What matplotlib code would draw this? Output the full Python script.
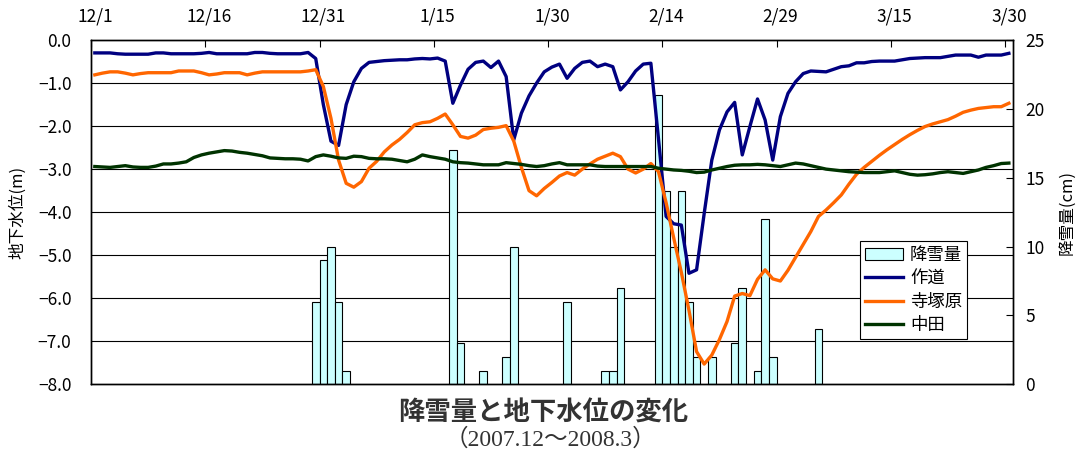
import datetime as dt
import numpy as np
import matplotlib
matplotlib.use("Agg")
import matplotlib.pyplot as plt
from matplotlib.patches import Patch

plt.rcParams['font.family'] = ['Noto Sans CJK JP', 'DejaVu Sans']

# daily record, 2007-12-01 .. 2008-03-30
start = dt.date(2007, 12, 1)
n_days = 121

# snowfall (cm): day index from 12/1 and amount
snow_day = [29, 30, 31, 32, 33, 47, 48, 51, 54, 55, 62, 67, 68, 69,
            74, 75, 76, 77, 78, 79, 81, 84, 85, 87, 88, 89, 95]
snow_cm = [6, 9, 10, 6, 1, 17, 3, 1, 2, 10, 6, 1, 1, 7,
           21, 14, 10, 14, 6, 2, 2, 3, 7, 1, 12, 2, 4]

# groundwater level (m)
sakudo = [-0.30, -0.30, -0.30, -0.32, -0.33, -0.33, -0.33, -0.33, -0.30, -0.30,
          -0.32, -0.32, -0.32, -0.32, -0.31, -0.29, -0.32, -0.32, -0.32, -0.32,
          -0.32, -0.29, -0.29, -0.31, -0.32, -0.32, -0.32, -0.32, -0.29,
          -0.43, -1.50, -2.35, -2.45, -1.50, -0.97, -0.66,
          -0.52, -0.50, -0.48, -0.47, -0.46, -0.46, -0.44, -0.43, -0.44, -0.42, -0.49,
          -1.47, -1.05, -0.68, -0.52, -0.49, -0.64, -0.49, -0.85, -2.32, -1.70,
          -1.30, -1.00, -0.74, -0.63, -0.56, -0.89, -0.66, -0.52, -0.49, -0.62,
          -0.56, -0.62, -1.16, -0.97, -0.72, -0.56, -0.54,
          -2.30, -4.10, -4.27, -4.30, -5.42, -5.34, -4.03, -2.79, -2.09, -1.67,
          -1.45, -2.67, -2.01, -1.37, -1.86, -2.79, -1.78, -1.24, -0.97, -0.78,
          -0.72, -0.73,
          -0.74, -0.68, -0.62, -0.60, -0.53, -0.53, -0.50, -0.49, -0.49, -0.49,
          -0.46, -0.43, -0.42, -0.41, -0.41, -0.41, -0.38, -0.35, -0.35, -0.35,
          -0.40, -0.35, -0.35, -0.35, -0.31]

terazukahara = [-0.81, -0.77, -0.74, -0.74, -0.77, -0.81, -0.78, -0.76, -0.76, -0.76,
                -0.76, -0.72, -0.72, -0.72, -0.76, -0.81, -0.79, -0.76, -0.76, -0.76,
                -0.81, -0.77, -0.74, -0.74, -0.74, -0.74, -0.74, -0.74, -0.72,
                -0.69, -1.08, -1.82, -2.79, -3.33, -3.42, -3.29, -2.98, -2.82, -2.60,
                -2.44, -2.31, -2.15, -1.97, -1.92, -1.90, -1.82, -1.72, -1.97, -2.24,
                -2.28, -2.21, -2.08, -2.05, -2.03, -1.99, -2.35, -2.96, -3.50, -3.62,
                -3.45, -3.31, -3.16, -3.08, -3.14, -3.00, -2.88, -2.77, -2.70, -2.63,
                -2.71, -3.00, -3.09, -3.00, -2.87,
                -3.06, -3.78, -4.60, -5.40, -6.28, -7.24, -7.53, -7.32, -6.96, -6.54,
                -5.95, -5.89, -5.94, -5.56, -5.34, -5.55, -5.60, -5.35, -5.05, -4.75,
                -4.45, -4.10,
                -3.95, -3.78, -3.60, -3.35, -3.12, -2.96, -2.82, -2.68, -2.55, -2.43,
                -2.31, -2.20, -2.10, -2.01, -1.95, -1.90, -1.85, -1.77, -1.68, -1.63,
                -1.59, -1.57, -1.55, -1.55, -1.47]

nakata = [-2.94, -2.95, -2.96, -2.94, -2.92, -2.95, -2.96, -2.96, -2.93, -2.88,
          -2.88, -2.86, -2.83, -2.73, -2.67, -2.63, -2.60, -2.57, -2.58, -2.61,
          -2.63, -2.66, -2.69, -2.74, -2.75, -2.76, -2.76, -2.77, -2.81, -2.71,
          -2.67, -2.70, -2.74, -2.75, -2.70, -2.71, -2.75, -2.76, -2.76, -2.77,
          -2.80, -2.83, -2.77, -2.67, -2.71, -2.74, -2.77, -2.83, -2.85, -2.86,
          -2.88, -2.90, -2.90, -2.90, -2.85, -2.87, -2.89, -2.92, -2.94, -2.92,
          -2.88, -2.85, -2.90, -2.90, -2.90, -2.90, -2.93, -2.94, -2.94, -2.94,
          -2.94, -2.94, -2.94, -2.94, -2.98, -3.00, -3.02, -3.03, -3.05, -3.08,
          -3.07, -3.02, -2.98, -2.94, -2.91, -2.90, -2.90, -2.89, -2.90, -2.92,
          -2.94, -2.90, -2.86, -2.88, -2.92, -2.96, -3.00, -3.02, -3.04, -3.06,
          -3.07, -3.08, -3.08, -3.08, -3.06, -3.04, -3.08, -3.12, -3.14, -3.13,
          -3.11, -3.08, -3.06, -3.08, -3.10, -3.06, -3.02, -2.96, -2.92, -2.87,
          -2.86]

level_ticks = np.arange(-8, 1, 1.0)
snow_ticks = np.arange(0, 26, 5)

fig = plt.figure(figsize=(10.81, 4.54), dpi=100)
ax = fig.add_axes([0.0842, 0.1535, 0.8526, 0.7584])
ax2 = ax.twinx()
ax.set_zorder(ax2.get_zorder() + 1)
ax.patch.set_visible(False)

# snowfall bars (behind), one slot per day
ax2.bar(np.array(snow_day) + 0.5, snow_cm, width=1.0, color='#CCFFFF',
        edgecolor='black', linewidth=0.8, zorder=2)
ax2.set_ylim(0, 25)
ax2.set_yticks(snow_ticks)
ax2.tick_params(axis='y', direction='in', length=5, labelsize=12.5, pad=9)
ax2.tick_params(axis='x', which='both', bottom=False, top=False,
                labelbottom=False, labeltop=False)

# horizontal grid at every metre, drawn under the bars
for v in level_ticks[1:-1]:
    frac = (v - level_ticks[0]) / (level_ticks[-1] - level_ticks[0])
    ax2.plot([0, 1], [frac, frac], transform=ax2.transAxes,
             color='black', lw=0.8, zorder=1)

x = np.arange(n_days) + 0.5
ax.plot(x, sakudo, color='#000080', lw=2.4, label='作道')
ax.plot(x, terazukahara, color='#FF6600', lw=2.4, label='寺塚原')
ax.plot(x, nakata, color='#003300', lw=2.4, label='中田')

ax.set_xlim(0, n_days)
ax.set_ylim(-8, 0)
ax.set_yticks(level_ticks)
ax.set_yticklabels([f'{v:.1f}'.replace('-', '\u2212') for v in level_ticks])
ax.tick_params(axis='y', length=0, labelsize=12.5, pad=14)

# date axis along the top: ticks at slot edges, labels at slot centres
tick_days = list(range(0, n_days, 15))
ax.xaxis.tick_top()
ax.set_xticks(tick_days)
ax.set_xticklabels([])
ax.set_xticks([d + 0.5 for d in tick_days], minor=True)
labels = []
for d in tick_days:
    day = start + dt.timedelta(days=d)
    labels.append(f'{day.month}/{day.day}')
ax.set_xticklabels(labels, minor=True)
ax.tick_params(axis='x', which='major', direction='in', length=5,
               top=True, bottom=False)
ax.tick_params(axis='x', which='minor', length=0, top=True, bottom=False,
               labeltop=True, labelbottom=False, labelsize=12.5, pad=10.5)

for a in (ax, ax2):
    for s in a.spines.values():
        s.set_color('black')
        s.set_linewidth(1.0)

fig.text(18 / 1081, 1 - 212 / 454, '地下水位(m)', rotation=90,
         ha='center', va='center', fontsize=12)
fig.text(1067 / 1081, 1 - 212 / 454, '降雪量(cm)', rotation=90,
         ha='center', va='center', fontsize=12)

handles = [Patch(facecolor='#CCFFFF', edgecolor='black', linewidth=0.8, label='降雪量')]
handles += ax.get_lines()
leg = ax.legend(handles=handles, loc='upper left', bbox_to_anchor=(0.834, 0.416),
                fontsize=12.5, frameon=True, fancybox=False, edgecolor='black',
                framealpha=1, borderpad=0.3, labelspacing=0.3,
                handlelength=2.2, handletextpad=0.4, borderaxespad=0)
leg.get_frame().set_linewidth(0.8)

fig.text(543 / 1081, 1 - 413 / 454, '降雪量と地下水位の変化', fontsize=19,
         fontweight='bold', color='#333333', ha='center', va='center')
fig.text(550 / 1081, 1 - 439 / 454, '（2007.12～2008.3）', fontsize=17,
         family=['Liberation Serif', 'Noto Sans CJK JP'], color='#333333',
         ha='center', va='center')

fig.savefig('out.png', dpi=100)
